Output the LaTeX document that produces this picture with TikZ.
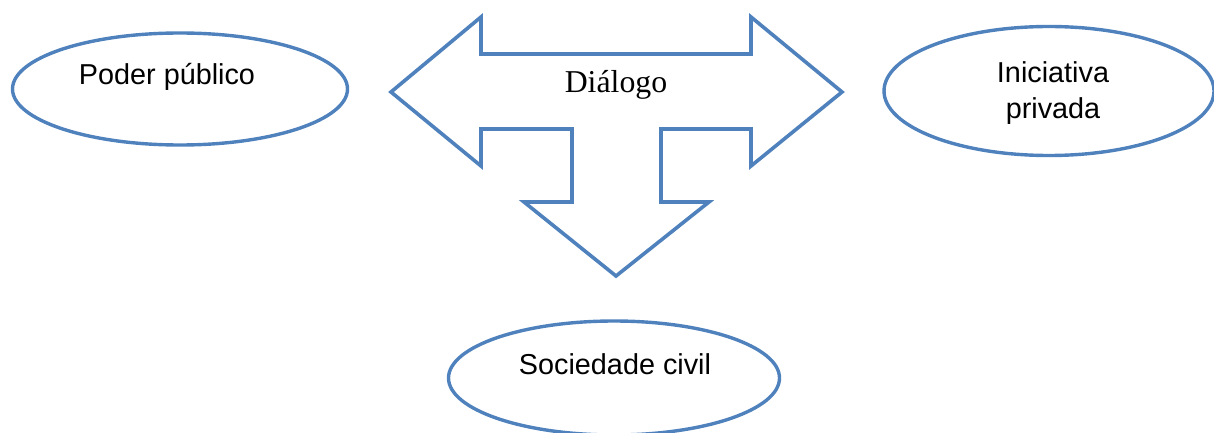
\documentclass[tikz,border=0pt]{standalone}
\usepackage{fontspec}
\setmainfont{Liberation Serif}
\setsansfont{Liberation Sans}
\usepackage{tikz}
\usetikzlibrary{shapes.geometric}
\definecolor{wordblue}{HTML}{4F81BD}

\begin{document}
\begin{tikzpicture}[x=0.5pt, y=-0.5pt,
    oval/.style={ellipse, draw=wordblue, line width=1.7pt, inner sep=0pt},
    lbl/.style={font=\sffamily\fontsize{14.4pt}{18pt}\selectfont, align=center, inner sep=0pt},
    arrowline/.style={draw=wordblue, line width=1.8pt, line join=miter}]
  \useasboundingbox (0,0) rectangle (1214,433);

  % Three-way arrow
  \draw[arrowline] (391,92) -- (481,17) -- (481,54) -- (751,54) -- (751,17)
    -- (842,92) -- (751,166) -- (751,129) -- (661,129) -- (661,202)
    -- (709,202) -- (616,276) -- (524,202) -- (572,202) -- (572,129)
    -- (481,129) -- (481,166) -- cycle;
  \node[font=\fontsize{15.9pt}{19pt}\selectfont, inner sep=0pt] (dialogo) at (616,85) {Diálogo};

  % Actors
  \node[oval, minimum width=167.5pt, minimum height=56pt] (poder) at (180,89) {};
  \node[lbl] (poderlbl) at (167,77) {Poder público};

  \node[oval, minimum width=165pt, minimum height=64.5pt] (privada) at (1049,91) {};
  \node[lbl] (privadalbl) at (1053,93) {Iniciativa\\privada};

  \node[oval, minimum width=165.5pt, minimum height=57pt] (civil) at (614,378) {};
  \node[lbl] (civillbl) at (615,364) {Sociedade civil};
\end{tikzpicture}
\end{document}
